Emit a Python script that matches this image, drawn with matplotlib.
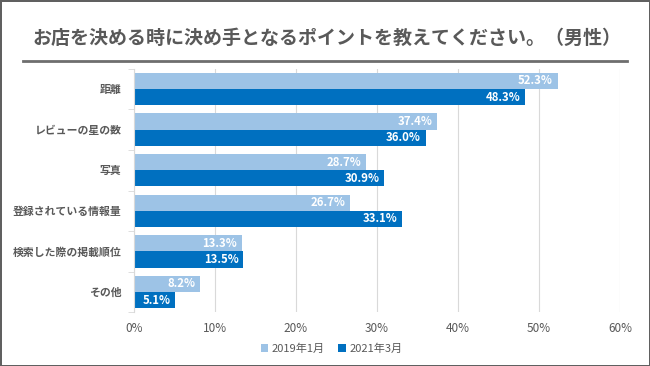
import numpy as np
import matplotlib.pyplot as plt
from matplotlib.lines import Line2D

plt.rcParams['font.family'] = ['Noto Sans CJK JP', 'DejaVu Sans']

categories = ['距離', 'レビューの星の数', '写真', '登録されている情報量', '検索した際の掲載順位', 'その他']
vals_2019 = [52.3, 37.4, 28.7, 26.7, 13.3, 8.2]
vals_2021 = [48.3, 36.0, 30.9, 33.1, 13.5, 5.1]
series_names = ['2019年1月', '2021年3月']
xticks = [0, 10, 20, 30, 40, 50, 60]

c_light = '#9dc3e6'
c_dark = '#0070c0'
txt = '#595959'

fig = plt.figure(figsize=(6.5, 3.66), dpi=100, linewidth=2, edgecolor='#606060')
ax = fig.add_axes([0.206, 0.147, 0.748, 0.665])

y = np.arange(len(categories))
h = 0.4
b1 = ax.barh(y - h / 2, vals_2019, height=h, color=c_light, label=series_names[0])
b2 = ax.barh(y + h / 2, vals_2021, height=h, color=c_dark, label=series_names[1])

for bars in (b1, b2):
    for b in bars:
        w = b.get_width()
        ax.text(w - 0.6, b.get_y() + b.get_height() / 2, f'{w:.1f}%', ha='right', va='center',
                color='white', fontsize=8.2, fontweight='bold')

ax.set_ylim(len(categories) - 0.5, -0.5)
ax.set_xlim(0, 60)
ax.set_xticks(xticks)
ax.set_xticklabels([f'{t}%' for t in xticks], color=txt, fontsize=8.5)
ax.set_yticks(y)
ax.set_yticklabels(categories, color=txt, fontsize=7.8, fontweight='bold')
ax.set_yticks(np.arange(-0.5, len(categories)), minor=True)
ax.tick_params(axis='y', which='major', length=0, pad=9)
ax.tick_params(axis='y', which='minor', length=4, color='#d9d9d9')
ax.tick_params(axis='x', length=0, pad=7)
ax.grid(axis='x', color='#d9d9d9', linewidth=0.8)
ax.set_axisbelow(True)
for s in ['top', 'right', 'bottom']:
    ax.spines[s].set_visible(False)
ax.spines['left'].set_color('#d9d9d9')

fig.text(0.05, 0.895, 'お店を決める時に決め手となるポイントを教えてください。（男性）',
         fontsize=13.7, fontweight='bold', color=txt, va='center', ha='left')
fig.add_artist(Line2D([0.035, 0.965], [0.834, 0.834], color='#6e6e6e', linewidth=2))

leg = fig.legend(handles=[b1, b2], loc='center', bbox_to_anchor=(0.51, 0.048), ncol=2, frameon=False,
                 fontsize=8, handlelength=0.7, handleheight=0.7, columnspacing=1.2, handletextpad=0.3)
for t in leg.get_texts():
    t.set_color(txt)

fig.savefig('out.png', dpi=100)
